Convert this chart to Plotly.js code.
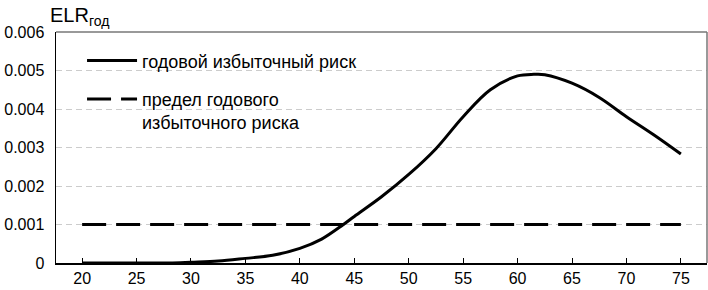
<!DOCTYPE html>
<html>
<head>
<meta charset="utf-8">
<script src="https://cdn.plot.ly/plotly-3.0.1.min.js"></script>
<style>html,body{margin:0;padding:0;background:#fff;}#chart{width:708px;height:290px;}</style>
</head>
<body>
<div id="chart"></div>
<script>
// Data
const ages = [20, 25, 28, 30, 32.5, 35, 37.5, 40, 42, 44, 45, 47.5, 50, 52.5, 55, 57.5, 60, 61.5, 62.5, 65, 67.5, 70, 72.5, 75];
const riskValues = [0, 0, 0, 0.00002, 0.00005, 0.00012, 0.0002, 0.00038, 0.00062, 0.001, 0.00121, 0.00172, 0.0023, 0.00297, 0.0038, 0.0045, 0.00486, 0.0049, 0.00489, 0.00467, 0.0043, 0.0038, 0.00333, 0.00283];
const limitAges = [20, 75];
const limitValues = [0.001, 0.001];
const seriesNames = ["годовой избыточный риск", "предел годового<br>избыточного риска"];
const xTicks = [20, 25, 30, 35, 40, 45, 50, 55, 60, 65, 70, 75];
const yTicks = [0, 0.001, 0.002, 0.003, 0.004, 0.005, 0.006];
const yTickLabels = ["0", "0.001", "0.002", "0.003", "0.004", "0.005", "0.006"];
const yTitle = "ELR<sub>год</sub>";

const font = "Liberation Sans, Arial, sans-serif";
const traces = [
  {x: ages, y: riskValues, name: seriesNames[0], mode: "lines", legendgroup: "a",
   line: {color: "#000", width: 3, shape: "spline", smoothing: 1}},
  {x: limitAges, y: limitValues, name: seriesNames[1], mode: "lines", legendgroup: "b",
   line: {color: "#000", width: 3, dash: "24px,10px"}}
];
const layout = {
  width: 708, height: 290,
  margin: {l: 56, r: 1, t: 32, b: 27},
  paper_bgcolor: "#fff", plot_bgcolor: "#fff",
  font: {family: font, size: 16, color: "#000"},
  showlegend: true,
  legend: {x: 0.04, y: 0.955, xanchor: "left", yanchor: "top", bgcolor: "rgba(0,0,0,0)",
           font: {family: font, size: 18, color: "#000"}, traceorder: "grouped", tracegroupgap: 12,
           valign: "top", itemwidth: 50},
  xaxis: {range: [17.6, 77.4], tickvals: xTicks, ticks: "inside", ticklen: 5, tickcolor: "#000",
          showline: true, linecolor: "#000", linewidth: 1.5, mirror: false, showgrid: false, zeroline: false,
          tickfont: {family: font, size: 16, color: "#000"}},
  yaxis: {range: [0, 0.006], tickvals: yTicks, ticktext: yTickLabels, ticks: "", ticklabelstandoff: 7,
          showline: true, linecolor: "#000", linewidth: 1.5, showgrid: true, gridcolor: "#cccccc",
          griddash: "6px,4px", gridwidth: 1, zeroline: false,
          tickfont: {family: font, size: 16, color: "#000"}},
  shapes: [
    {type: "line", xref: "paper", yref: "paper", x0: 0, x1: 1, y0: 1, y1: 1, line: {color: "#777", width: 1.5}},
    {type: "line", xref: "paper", yref: "paper", x0: 1, x1: 1, y0: 0, y1: 1, line: {color: "#777", width: 1.5}}
  ],
  annotations: [
    {text: yTitle, xref: "paper", yref: "paper", x: -0.012, y: 1, xanchor: "left", yanchor: "bottom",
     showarrow: false, yshift: 1, font: {family: font, size: 20, color: "#000"}}
  ]
};
Plotly.newPlot("chart", traces, layout, {displayModeBar: false, staticPlot: true});
</script>
</body>
</html>
